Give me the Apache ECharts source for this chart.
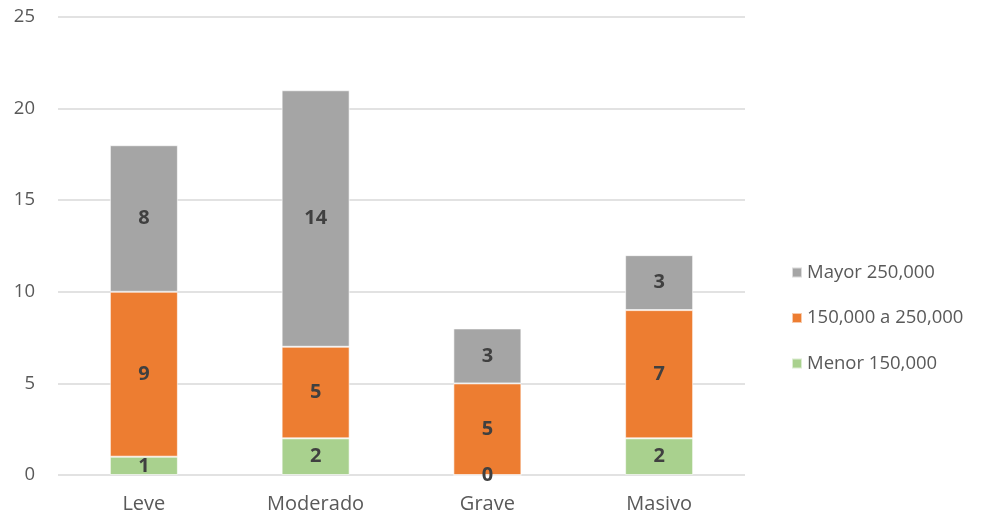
<!DOCTYPE html>
<html>
<head>
<meta charset="utf-8">
<script src="https://cdn.jsdelivr.net/npm/echarts@6/dist/echarts.min.js"></script>
<style>
  html, body { margin: 0; padding: 0; background: #fff; }
  #chart { width: 989px; height: 520px; }
</style>
</head>
<body>
<div id="chart"></div>
<script>
// Categories and stacked series values
const categories = ['Leve', 'Moderado', 'Grave', 'Masivo'];
const menor150 = [1, 2, 0, 2];
const entre150y250 = [9, 5, 5, 7];
const mayor250 = [8, 14, 3, 3];
const seriesNames = ['Menor 150,000', '150,000 a 250,000', 'Mayor 250,000'];
const legendOrder = ['Mayor 250,000', '150,000 a 250,000', 'Menor 150,000'];

const fontFamily = '"Open Sans", "Liberation Sans", sans-serif';
const colors = ['#a9d18e', '#ed7d31', '#a5a5a5'];
const values = [menor150, entre150y250, mayor250];

const chart = echarts.init(document.getElementById('chart'));
chart.setOption({
  animation: false,
  grid: { left: 58, right: 244, top: 17, bottom: 45 },
  legend: {
    data: legendOrder,
    orient: 'vertical',
    left: 786,
    top: 258,
    itemWidth: 10,
    itemHeight: 10,
    itemGap: 26.5,
    icon: 'rect',
    textStyle: { fontFamily, fontSize: 18.5, color: '#595959', lineHeight: 19 }
  },
  xAxis: {
    type: 'category',
    data: categories,
    axisLine: { show: false },
    axisTick: { show: false },
    axisLabel: { fontFamily, fontSize: 20, color: '#595959', margin: 19 }
  },
  yAxis: {
    type: 'value',
    min: 0,
    max: 25,
    interval: 5,
    axisLine: { show: false },
    axisTick: { show: false },
    splitLine: { lineStyle: { color: '#d9d9d9', width: 1.5 } },
    axisLabel: { fontFamily, fontSize: 18.5, color: '#595959', margin: 23 }
  },
  series: seriesNames.map((name, i) => ({
    name,
    type: 'bar',
    stack: 'total',
    barWidth: 68,
    data: values[i],
    itemStyle: { color: colors[i], borderColor: 'rgba(255,255,255,0.6)', borderWidth: 1 },
    label: {
      show: true,
      position: 'inside',
      fontFamily,
      fontSize: 20,
      fontWeight: 'bold',
      color: '#404040'
    }
  }))
});
</script>
</body>
</html>
